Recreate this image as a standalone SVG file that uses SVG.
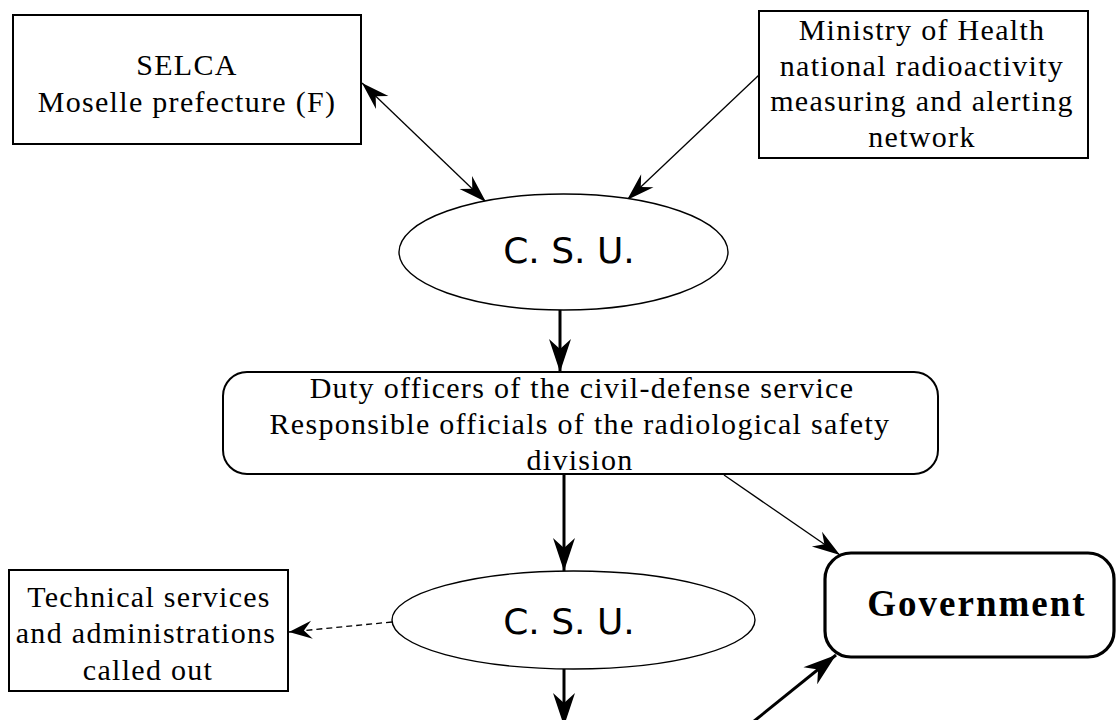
<svg xmlns="http://www.w3.org/2000/svg" width="1117" height="720" viewBox="0 0 1117 720">
<style>
.bg{fill:#fff}
.box{fill:#fff;stroke:#000;stroke-width:2}
.ell{fill:#fff;stroke:#000;stroke-width:1.4}
.gov{fill:#fff;stroke:#000;stroke-width:3.2}
.t{font-family:"Liberation Serif",serif;font-size:30px;letter-spacing:1.3px;fill:#000;text-anchor:middle}
.csu{font-family:"DejaVu Sans",sans-serif;font-size:36px;fill:#000;text-anchor:middle}
.gt{font-family:"Liberation Serif",serif;font-size:37px;font-weight:bold;letter-spacing:2px;fill:#000;text-anchor:middle}
.thin{fill:none;stroke:#000;stroke-width:1.3}
.thick{fill:none;stroke:#000;stroke-width:3}
.dash{fill:none;stroke:#000;stroke-width:1.3;stroke-dasharray:6 4}
</style>
<defs>
<marker id="ah" markerUnits="userSpaceOnUse" viewBox="-34 -12 36 24" refX="0" refY="0" markerWidth="36" markerHeight="24" orient="auto-start-reverse">
<path d="M0,0 L-33,-11 L-23,0 L-33,11 Z" fill="#000"/>
</marker>
<marker id="ahs" markerUnits="userSpaceOnUse" viewBox="-30 -10 32 20" refX="0" refY="0" markerWidth="32" markerHeight="20" orient="auto-start-reverse">
<path d="M0,0 L-28,-9 L-19,0 L-28,9 Z" fill="#000"/>
</marker>
<marker id="ahd" markerUnits="userSpaceOnUse" viewBox="-24 -10 26 20" refX="0" refY="0" markerWidth="26" markerHeight="20" orient="auto">
<path d="M0,0 L-23,-9 L-15,0 L-23,9 Z" fill="#000"/>
</marker>
</defs>
<rect class="bg" x="0" y="0" width="1117" height="720"/>
<g id="connectors">
<line class="thin" x1="362" y1="83" x2="486" y2="202" marker-start="url(#ahs)" marker-end="url(#ahs)"/>
<line class="thin" x1="759" y1="75" x2="627" y2="200" marker-end="url(#ahs)"/>
<line class="thick" x1="560" y1="310" x2="560" y2="372" marker-end="url(#ah)"/>
<line class="thick" x1="564" y1="474" x2="564" y2="571" marker-end="url(#ah)"/>
<line class="thin" x1="724" y1="475" x2="840" y2="555" marker-end="url(#ahs)"/>
<line class="dash" x1="392" y1="622" x2="289" y2="632" marker-end="url(#ahd)"/>
<line class="thick" x1="564" y1="669" x2="564" y2="726" marker-end="url(#ah)"/>
<line class="thick" x1="743" y1="730" x2="836" y2="655" marker-end="url(#ah)"/>
</g>
<g id="selca">
<rect class="box" x="13" y="15" width="348" height="129"/>
<text class="t" x="187" y="75">SELCA</text>
<text class="t" x="187" y="112">Moselle prefecture (F)</text>
</g>
<g id="ministry">
<rect class="box" x="759" y="11" width="329" height="147"/>
<text class="t" x="922" y="40">Ministry of Health</text>
<text class="t" x="922" y="76">national radioactivity</text>
<text class="t" x="922" y="111">measuring and alerting</text>
<text class="t" x="922" y="147">network</text>
</g>
<g id="csu1">
<ellipse class="ell" cx="563.5" cy="252" rx="164.5" ry="58"/>
<text class="csu" x="569" y="263">C. S. U.</text>
</g>
<g id="duty">
<rect class="box" x="223" y="372" width="715" height="102" rx="24" ry="24"/>
<text class="t" x="582" y="398">Duty officers of the civil-defense service</text>
<text class="t" x="580" y="434">Responsible officials of the radiological safety</text>
<text class="t" x="580" y="470">division</text>
</g>
<g id="csu2">
<ellipse class="ell" cx="573.5" cy="620" rx="181.5" ry="49"/>
<text class="csu" x="569" y="634">C. S. U.</text>
</g>
<g id="technical">
<rect class="box" x="9" y="570" width="279" height="121"/>
<text class="t" x="149" y="607">Technical services</text>
<text class="t" x="146" y="643">and administrations</text>
<text class="t" x="148" y="680">called out</text>
</g>
<g id="government">
<rect class="gov" x="825" y="553" width="289" height="104" rx="26" ry="26"/>
<text class="gt" x="977" y="616">Government</text>
</g>
</svg>
